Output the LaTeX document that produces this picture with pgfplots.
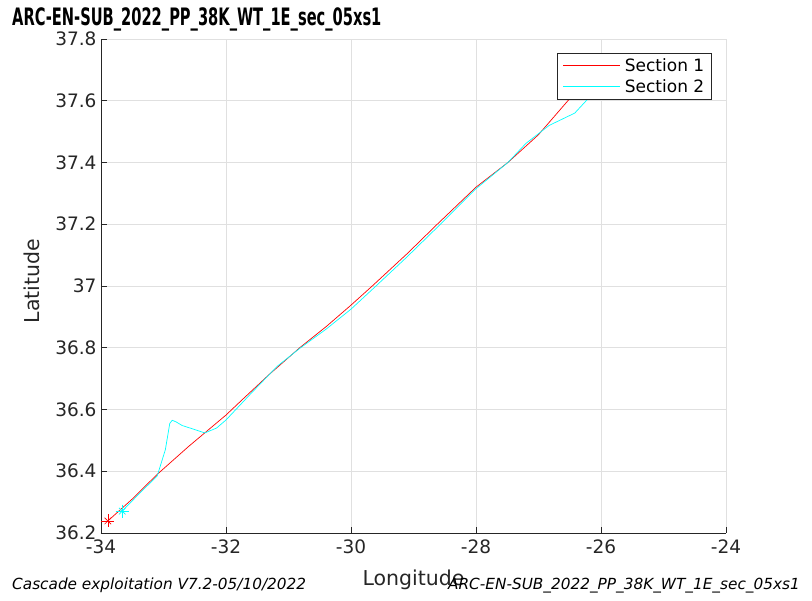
\documentclass[border=0pt]{standalone}
\usepackage{pgfplots}
\pgfplotsset{compat=1.18}
\usepackage{fontspec}
\setmainfont{DejaVu Sans}
\definecolor{axgray}{HTML}{262626}
\definecolor{gridgray}{HTML}{E0E0E0}
\definecolor{mred}{RGB}{255,0,0}
\definecolor{mcyan}{RGB}{0,255,255}
\begin{document}
\begin{tikzpicture}[x=1pt,y=1pt]
\useasboundingbox (-101,-68) rectangle (711,533);
\begin{axis}[
  at={(0,0)}, anchor=south west,
  scale only axis, width=625pt, height=494pt,
  xmin=-34, xmax=-24, ymin=36.2, ymax=37.8,
  xtick={-34,-32,-30,-28,-26,-24},
  ytick={36.2,36.4,36.6,36.8,37,37.2,37.4,37.6,37.8},
  yticklabel style={/pgf/number format/fixed,/pgf/number format/precision=1},
  /pgf/number format/assume math mode=true,
  ticklabel style={font=\fontsize{18.5}{20}\selectfont, text=axgray},
  xticklabel style={yshift=-3pt},
  yticklabel style={xshift=-1pt},
  axis x line*=bottom, axis y line*=left,
  axis line style={axgray, line width=0.7pt, -},
  tick style={axgray, line width=0.7pt},
  tick align=inside, major tick length=6pt,
  grid=major, grid style={gridgray, line width=0.7pt},
  legend style={at={(0.977,0.9717)}, anchor=north east, draw=axgray, line width=0.7pt,
    font=\fontsize{17}{20}\selectfont, inner xsep=5pt, inner ysep=3pt, row sep=3pt,
    cells={anchor=west}},
  clip=true,
]
\addlegendimage{legend image code/.code={\fill[fill=mred, draw=none] (0pt,-0.2pt) rectangle (57pt,1.0pt); \path (60pt,0pt);}}
\addlegendentry{Section 1}
\addlegendimage{legend image code/.code={\fill[fill=mcyan, draw=none] (0pt,-0.5pt) rectangle (57pt,0.5pt); \path (60pt,0pt);}}
\addlegendentry{Section 2}
\addplot[draw=mred, line width=0.7pt, forget plot] coordinates {
(-33.89,36.239) (-33.50,36.31) (-33.10,36.39) (-32.60,36.48) (-32.00,36.582)
(-31.744,36.631) (-31.30,36.715) (-30.82,36.800) (-30.40,36.868) (-30.00,36.938)
(-29.66,37.000) (-29.10,37.105) (-28.62,37.200) (-28.00,37.320) (-27.49,37.400)
(-27.00,37.490) (-26.53,37.600) (-26.10,37.690)
};
\addplot[draw=mcyan, line width=0.7pt, forget plot] coordinates {
(-33.66,36.271) (-33.40,36.325) (-33.10,36.385) (-32.97,36.47) (-32.90,36.555)
(-32.86,36.565) (-32.80,36.560) (-32.70,36.548) (-32.50,36.535) (-32.34,36.524)
(-32.15,36.540) (-32.00,36.566) (-31.60,36.652) (-31.18,36.740) (-30.82,36.798)
(-30.40,36.860) (-30.00,36.925) (-29.60,37.000) (-29.10,37.095) (-28.62,37.190)
(-28.00,37.315) (-27.49,37.400) (-27.20,37.462) (-26.83,37.520) (-26.42,37.560)
(-26.10,37.630)
};
\addplot[draw=mred, only marks, mark=+, mark size=6.5pt, line width=0.6pt, forget plot] coordinates {(-33.89,36.239)};
\addplot[draw=mred, only marks, mark=x, mark size=4.6pt, line width=0.6pt, forget plot] coordinates {(-33.89,36.239)};
\addplot[draw=mcyan, only marks, mark=+, mark size=6.5pt, line width=0.8pt, forget plot] coordinates {(-33.66,36.271)};
\addplot[draw=mcyan, only marks, mark=x, mark size=4.6pt, line width=0.8pt, forget plot] coordinates {(-33.66,36.271)};
\end{axis}
\node[anchor=base west, inner sep=0pt] at (-89,507) {\fontsize{24}{28}\selectfont\scalebox{0.61}[1]{\bfseries ARC-EN-SUB\_2022\_PP\_38K\_WT\_1E\_sec\_05xs1}};
\node[anchor=base, inner sep=0pt, text=axgray] at (312.5,-53) {\fontsize{20.5}{24}\selectfont Longitude};
\node[anchor=base, inner sep=0pt, rotate=90, text=axgray] at (-61,252) {\fontsize{20.5}{24}\selectfont Latitude};
\node[anchor=base west, inner sep=0pt] at (-89,-57) {\fontsize{15.3}{18}\selectfont\itshape Cascade exploitation V7.2-05/10/2022};
\node[anchor=base east, inner sep=0pt] at (699,-57) {\fontsize{15.3}{18}\selectfont\itshape ARC-EN-SUB\_2022\_PP\_38K\_WT\_1E\_sec\_05xs1};
\end{tikzpicture}
\end{document}
